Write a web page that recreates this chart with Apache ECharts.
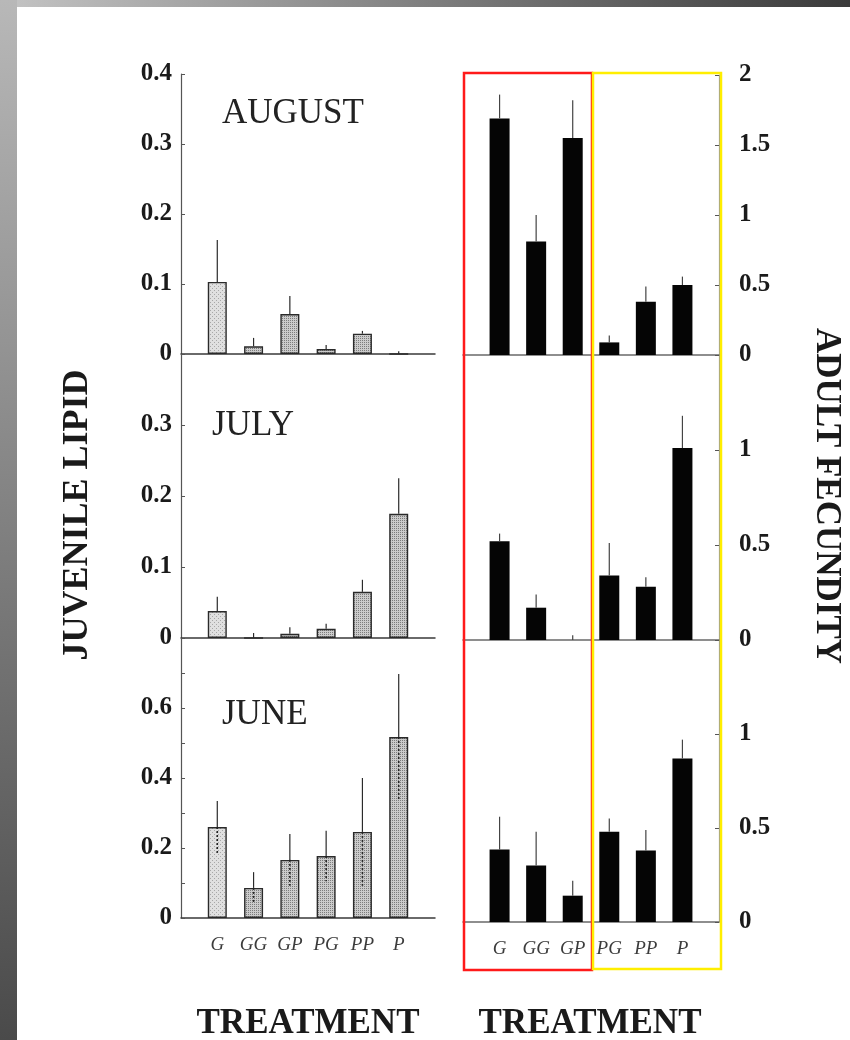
<!DOCTYPE html>
<html>
<head>
<meta charset="utf-8">
<script src="https://cdn.jsdelivr.net/npm/echarts@6/dist/echarts.min.js"></script>
<style>
  html, body { margin: 0; padding: 0; background: #fff; }
  #chart { width: 850px; height: 1040px; }
</style>
</head>
<body>
<div id="chart"></div>
<script>
const TREATMENTS = ["G", "GG", "GP", "PG", "PP", "P"];

// juvenile lipid (left column), mean and SE
const LIPID_AUG = [0.103, 0.011, 0.057, 0.007, 0.029, 0];
const LIPID_AUG_SE = [0.06, 0.012, 0.026, 0.006, 0.004, 0.004];
const LIPID_JUL = [0.038, 0, 0.006, 0.013, 0.065, 0.175];
const LIPID_JUL_SE = [0.02, 0.007, 0.009, 0.007, 0.017, 0.05];
const LIPID_JUN = [0.26, 0.086, 0.166, 0.177, 0.246, 0.517];
const LIPID_JUN_SE = [0.074, 0.045, 0.074, 0.072, 0.154, 0.18];

// adult fecundity (right column)
const FEC_AUG = [1.69, 0.81, 1.55, 0.09, 0.38, 0.5];
const FEC_AUG_SE = [0.17, 0.19, 0.27, 0.05, 0.11, 0.06];
const FEC_JUL = [0.52, 0.17, 0, 0.34, 0.28, 1.01];
const FEC_JUL_SE = [0.04, 0.07, 0.025, 0.17, 0.05, 0.17];
const FEC_JUN = [0.385, 0.3, 0.14, 0.48, 0.38, 0.87];
const FEC_JUN_SE = [0.175, 0.18, 0.08, 0.07, 0.11, 0.1];

const MONTHS = ["AUGUST", "JULY", "JUNE"];
const LIPID_TICKS_AUG = ["0", "0.1", "0.2", "0.3", "0.4"];
const LIPID_TICKS_JUL = ["0", "0.1", "0.2", "0.3"];
const LIPID_TICKS_JUN = ["0", "0.2", "0.4", "0.6"];
const FEC_TICKS_AUG = ["0", "0.5", "1", "1.5", "2"];
const FEC_TICKS_JUL = ["0", "0.5", "1"];
const FEC_TICKS_JUN = ["0", "0.5", "1"];

const SERIF = '"Liberation Serif", "DejaVu Serif", serif';
const INK = "#1a1a1a";

function stipple(bg, dot, dots) {
  const c = document.createElement("canvas");
  c.width = 4;
  c.height = 4;
  const g = c.getContext("2d");
  g.fillStyle = bg;
  g.fillRect(0, 0, 4, 4);
  g.fillStyle = dot;
  dots.forEach(([x, y]) => g.fillRect(x, y, 1, 1));
  return c;
}
const LIGHT_FILL = { image: stipple("#e0e0e0", "#a8a8a8", [[0, 0], [2, 2]]), repeat: "repeat" };
const DARK_FILL = { image: stipple("#cbcbcb", "#7c7c7c", [[0, 0], [2, 0], [0, 2], [2, 2]]), repeat: "repeat" };

const panels = [
  { side: "L", top: 74, height: 280, max: 0.4, step: 0.1, ticks: LIPID_TICKS_AUG, vals: LIPID_AUG, se: LIPID_AUG_SE },
  { side: "L", top: 354, height: 284, max: 0.4, step: 0.1, ticks: LIPID_TICKS_JUL, vals: LIPID_JUL, se: LIPID_JUL_SE },
  { side: "L", top: 638, height: 280, max: 0.8, step: 0.1, ticks: LIPID_TICKS_JUN, vals: LIPID_JUN, se: LIPID_JUN_SE, both: true, showX: true },
  { side: "R", top: 75, height: 280, max: 2, step: 0.5, ticks: FEC_TICKS_AUG, vals: FEC_AUG, se: FEC_AUG_SE },
  { side: "R", top: 355, height: 285, max: 1.5, step: 0.5, ticks: FEC_TICKS_JUL, vals: FEC_JUL, se: FEC_JUL_SE },
  { side: "R", top: 640, height: 282, max: 1.5, step: 0.5, ticks: FEC_TICKS_JUN, vals: FEC_JUN, se: FEC_JUN_SE, showX: true },
];

const grid = [], xAxis = [], yAxis = [], series = [];

panels.forEach((p, i) => {
  const left = p.side === "L";
  grid.push({ left: left ? 181 : 463, width: left ? 254 : 256, top: p.top, height: p.height });
  xAxis.push({
    type: "value", gridIndex: i, min: 0, max: 7, interval: 1,
    axisLine: { onZero: false, lineStyle: { color: left ? "#3a3a3a" : "#6a6a6a", width: 1.5 } },
    axisTick: { show: false },
    splitLine: { show: false },
    axisLabel: {
      show: !!p.showX, margin: 17, color: "#3c3c3c",
      fontFamily: SERIF, fontStyle: "italic", fontSize: 19,
      formatter: (v) => TREATMENTS[v - 1] || "",
    },
  });
  yAxis.push({
    type: "value", gridIndex: i, min: 0, max: p.max, interval: p.step,
    position: left ? "left" : "right",
    axisLine: { show: true, onZero: false, lineStyle: { color: left ? "#555" : "#999", width: 1.2 } },
    axisTick: { show: true, inside: true, length: 4, lineStyle: { color: "#555" } },
    splitLine: { show: false },
    axisLabel: {
      margin: left ? 9 : 20, color: INK, fontFamily: SERIF, fontWeight: "bold", fontSize: 25,
      formatter: (v) => {
        const s = String(+v.toFixed(1));
        return p.ticks.includes(s) ? s : "";
      },
    },
  });
  series.push({
    type: "bar", xAxisIndex: i, yAxisIndex: i,
    barWidth: left ? 19 : 20,
    data: p.vals.map((v, k) => ({
      value: [k + 1, v],
      itemStyle: left
        ? { color: k === 0 ? LIGHT_FILL : DARK_FILL, borderColor: "#2a2a2a", borderWidth: 1.4 }
        : { color: "#050505" },
    })),
    silent: true,
    z: 2,
  });
  series.push({
    type: "custom", xAxisIndex: i, yAxisIndex: i,
    data: p.vals.map((v, k) => [k + 1, v, p.se[k]]),
    silent: true,
    z: 3,
    renderItem: (params, api) => {
      const x = api.value(0), y = api.value(1), e = api.value(2);
      const base = api.coord([x, y]);
      const up = api.coord([x, y + e]);
      const lines = [{
        type: "line",
        shape: { x1: base[0], y1: base[1], x2: up[0], y2: up[1] },
        style: { stroke: left ? "#2a2a2a" : "#444", lineWidth: 1.2 },
      }];
      if (p.both && y - e > 0) {
        const down = api.coord([x, y - e]);
        lines.push({
          type: "line",
          shape: { x1: base[0], y1: base[1], x2: down[0], y2: down[1] },
          style: { stroke: "#222", lineWidth: 1.6, lineDash: [2, 2] },
        });
      }
      return { type: "group", children: lines };
    },
  });
});

const chart = echarts.init(document.getElementById("chart"), null, { renderer: "canvas" });
chart.setOption({
  animation: false,
  backgroundColor: "#ffffff",
  grid, xAxis, yAxis, series,
  graphic: [
    {
      type: "rect", shape: { x: 0, y: 0, width: 850, height: 7 },
      style: { fill: new echarts.graphic.LinearGradient(0, 0, 1, 0, [{ offset: 0, color: "#c4c4c4" }, { offset: 1, color: "#3a3a3a" }]) },
    },
    {
      type: "rect", shape: { x: 0, y: 0, width: 17, height: 1040 },
      style: { fill: new echarts.graphic.LinearGradient(0, 0, 0, 1, [{ offset: 0, color: "#b8b8b8" }, { offset: 1, color: "#4a4a4a" }]) },
    },
    { type: "text", x: 222, y: 114, style: { text: MONTHS[0], font: "normal 35px " + SERIF, fill: "#222", verticalAlign: "middle" } },
    { type: "text", x: 212, y: 426, style: { text: MONTHS[1], font: "normal 35px " + SERIF, fill: "#222", verticalAlign: "middle" } },
    { type: "text", x: 222, y: 715, style: { text: MONTHS[2], font: "normal 35px " + SERIF, fill: "#222", verticalAlign: "middle" } },
    {
      type: "text", x: 78, y: 515, rotation: Math.PI / 2,
      style: { text: "JUVENILE LIPID", font: "bold 36px " + SERIF, fill: INK, align: "center", verticalAlign: "middle" },
    },
    {
      type: "text", x: 826, y: 496, rotation: -Math.PI / 2,
      style: { text: "ADULT FECUNDITY", font: "bold 35px " + SERIF, fill: INK, align: "center", verticalAlign: "middle" },
    },
    { type: "text", x: 308, y: 1024, style: { text: "TREATMENT", font: "bold 35px " + SERIF, fill: INK, align: "center", verticalAlign: "middle" } },
    { type: "text", x: 590, y: 1024, style: { text: "TREATMENT", font: "bold 35px " + SERIF, fill: INK, align: "center", verticalAlign: "middle" } },
    {
      type: "rect", z: 100, shape: { x: 464, y: 73, width: 128, height: 897 },
      style: { fill: null, stroke: "#ff1a1a", lineWidth: 2.5 },
    },
    {
      type: "rect", z: 100, shape: { x: 593, y: 73, width: 128, height: 896 },
      style: { fill: null, stroke: "#ffee00", lineWidth: 2.5 },
    },
  ],
});
</script>
</body>
</html>
